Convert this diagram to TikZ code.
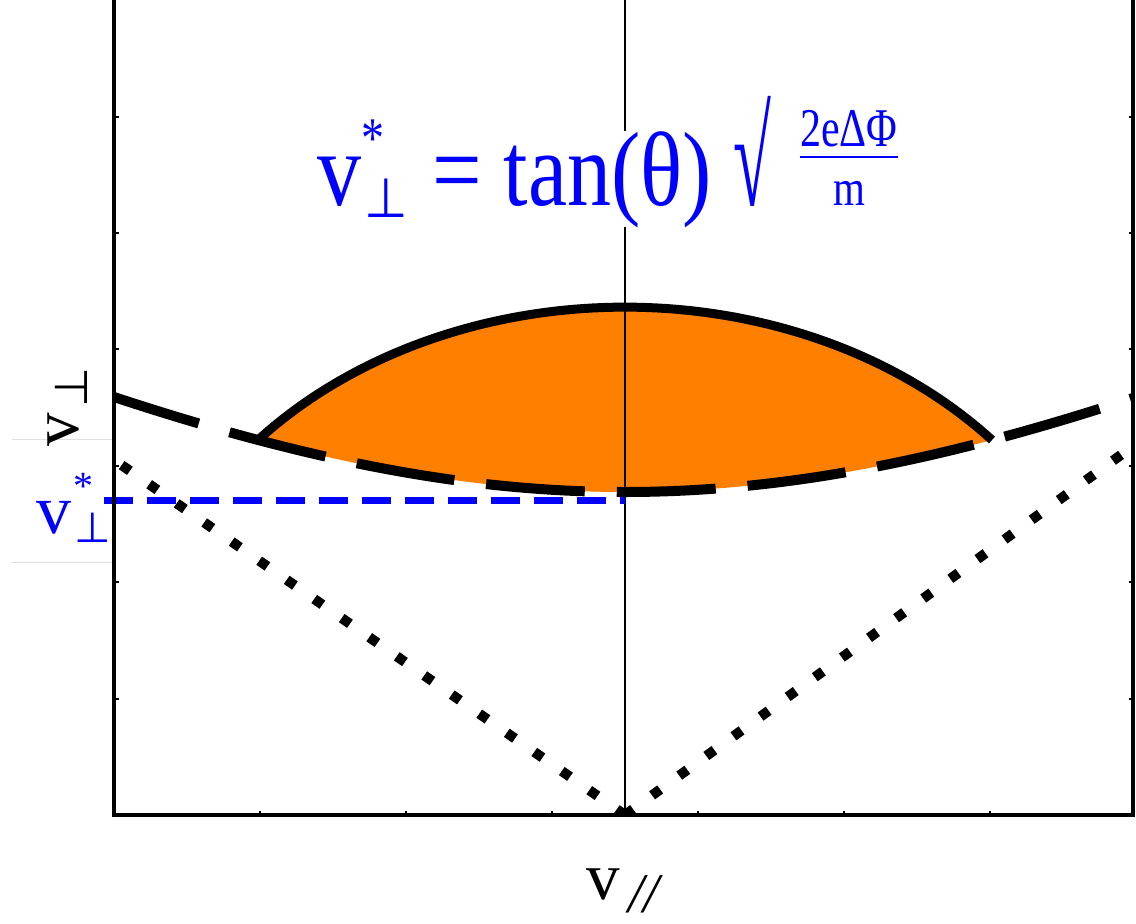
\documentclass[tikz,border=0pt]{standalone}
\usepackage{fontspec}
\setmainfont{Liberation Serif}
\newfontfamily\dejavu{DejaVu Sans}
\definecolor{fillorange}{RGB}{255,128,0}
\definecolor{labelblue}{RGB}{0,0,255}
\tikzset{
  axisline/.style={line width=3.5pt, line join=miter},
  tickline/.style={line width=2pt},
  hyper/.style={line width=10pt, dash pattern=on 99pt off 32pt, dash phase=6pt},
  energy/.style={line width=9pt},
  dotline/.style={line width=10pt, dash pattern=on 10pt off 23.5pt},
  bluedash/.style={labelblue, line width=7pt, dash pattern=on 29pt off 14pt},
  lbl/.style={inner sep=0pt, outer sep=0pt},
}
\begin{document}
\begin{tikzpicture}[x=10pt, y=-10pt]
\useasboundingbox (0,0) rectangle (113.6,92.4);
% faint gray lines
\draw[black!12, line width=1pt] (1.2,43.9) -- (11.2,43.9);
\draw[black!12, line width=1pt] (1.2,56.2) -- (11.2,56.2);
\begin{scope}
\clip (11.4,0) rectangle (113.3,81.5);
% orange region
\fill[fillorange] plot[domain=138.86:41.14, samples=90] ({62.5+48.73*cos(\x)}, {69.56-38.85*sin(\x)})
  -- plot[domain=36.7:-36.7, samples=90] ({62.5+\x}, {81.5-sqrt(1043.29+0.2696*\x*\x)}) -- cycle;
% center line
\draw[line width=1.3pt] (62.5,0) -- (62.5,81.5);
% dotted lines
\coordinate (o) at (62.5,81.5);
\coordinate (dl) at (11.0,45.7);
\coordinate (dr) at (113.6,44.4);
\draw[dotline] (o) -- (dl);
\draw[dotline] (o) -- (dr);
% hyperbola
\draw[hyper] plot[domain=-51.5:51.5, samples=200] ({62.5+\x}, {81.5-sqrt(1043.29+0.2696*\x*\x)});
% energy arc
\draw[energy] plot[domain=138.86:41.14, samples=90] ({62.5+48.73*cos(\x)}, {69.56-38.85*sin(\x)});
\end{scope}
% blue dashed level
\coordinate (bl) at (10.4,50.0);
\coordinate (br) at (62.5,50.0);
\draw[bluedash] (bl) -- (br);
% axes
\draw[axisline] (11.4,0) -- (11.4,81.5) -- (113.3,81.5) -- (113.3,0);
\foreach \k in {1,...,6} {
  \draw[tickline] (11.4,{81.5-11.64*\k}) -- (11.85,{81.5-11.64*\k});
  \draw[tickline] (113.3,{81.5-11.64*\k}) -- (112.85,{81.5-11.64*\k});
  \draw[tickline] ({11.4+14.6*\k},81.5) -- ({11.4+14.6*\k},81.05);
}
% formula
\node[lbl, labelblue, anchor=base west] (fv) at (31.7,20.5) {\fontsize{88}{88}\selectfont\scalebox{1}[1.2]{v}};
\node[lbl, labelblue, anchor=south] (fsub) at (38.6,21.7) {\dejavu\fontsize{50}{50}\selectfont\scalebox{1}[1.1]{⊥}};
\node[lbl, labelblue, anchor=north] (fstar) at (37.3,12.0) {\fontsize{46}{46}\selectfont\scalebox{1}[1.25]{*}};
\node[lbl, labelblue, anchor=base west, fill=white] (feq) at (43.2,20.5) {\fontsize{88}{88}\selectfont\scalebox{1}[1.2]{= tan(θ)}};
\node[lbl, labelblue, anchor=base west] (fsqrt) at (73.3,20.5) {\fontsize{115}{115}\selectfont\scalebox{0.6}[1.2]{√}};
\node[lbl, labelblue, anchor=base] (fnum) at (84.9,14.6) {\fontsize{42}{42}\selectfont\scalebox{1}[1.3]{2eΔΦ}};
\node[lbl, labelblue, anchor=base] (fden) at (84.9,20.5) {\fontsize{41}{41}\selectfont\scalebox{1}[1.25]{m}};
\draw[labelblue, line width=1.2pt] (fnum.south west |- 0,15.7) coordinate (fb1) -- (fnum.south east |- 0,15.7) coordinate (fb2);
% left blue label
\node[lbl, labelblue, anchor=base west] (lv) at (3.6,53.3) {\fontsize{70}{70}\selectfont v};
\node[lbl, labelblue, anchor=south] (lsub) at (9.3,54.2) {\dejavu\fontsize{42}{42}\selectfont ⊥};
\node[lbl, labelblue, anchor=north] (lstar) at (8.3,47.3) {\fontsize{40}{40}\selectfont *};
% axis labels
\node[lbl, rotate=90, anchor=base west] (ylab) at (7.8,44.6) {\fontsize{67}{67}\selectfont v\hspace{5pt}\raisebox{-9pt}{\dejavu\fontsize{46}{46}\selectfont ⊥}};
\node[lbl, anchor=base west] (xlab) at (58.6,89.9) {\fontsize{67}{67}\selectfont v};
\node[lbl, anchor=base west] (xsub) at (62.8,91.2) {\fontsize{56}{56}\selectfont\itshape //};
\end{tikzpicture}
\end{document}
